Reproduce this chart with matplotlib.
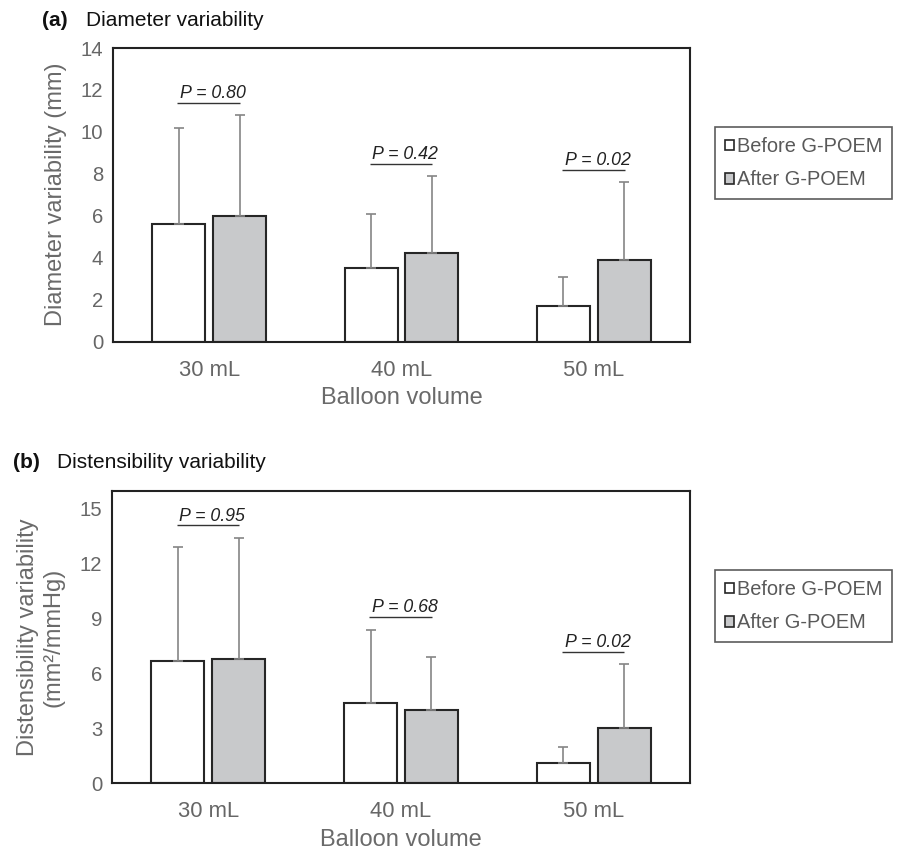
import matplotlib
matplotlib.use("Agg")
import matplotlib.pyplot as plt
import numpy as np
from matplotlib.patches import Patch

plt.rcParams['font.family'] = ['Liberation Sans', 'DejaVu Sans']

categories = ["30 mL", "40 mL", "50 mL"]
series_names = ["Before G-POEM", "After G-POEM"]

# Panel (a) Diameter variability (mm)
diam_before = [5.6, 3.5, 1.7]
diam_before_sd = [4.6, 2.6, 1.4]
diam_after = [6.0, 4.2, 3.9]
diam_after_sd = [4.8, 3.7, 3.7]
diam_p_labels = ["P = 0.80", "P = 0.42", "P = 0.02"]
diam_p_levels = [11.4, 8.45, 8.2]

# Panel (b) Distensibility variability (mm2/mmHg)
dist_before = [6.7, 4.4, 1.1]
dist_before_sd = [6.2, 4.0, 0.9]
dist_after = [6.8, 4.0, 3.0]
dist_after_sd = [6.6, 2.9, 3.5]
dist_p_labels = ["P = 0.95", "P = 0.68", "P = 0.02"]
dist_p_levels = [14.1, 9.1, 7.2]

W, H = 898, 856
fig = plt.figure(figsize=(W / 100, H / 100), dpi=100)

TICK_C = '#666666'
LABEL_C = '#6a6a6a'
EDGE_C = '#262626'
GRAY_FILL = '#c8c9cb'
ERR_C = '#858585'


def panel(rect, before, bsd, after, asd, plabels, plevels, ylim, yticks,
          ylabel, label_x, legend_top):
    ax = fig.add_axes(rect)
    x = np.arange(len(categories))
    off = 0.158
    width = 0.275
    ax.bar(x - off, before, width, color='white', edgecolor=EDGE_C,
           linewidth=1.5, zorder=2)
    ax.bar(x + off, after, width, color=GRAY_FILL, edgecolor=EDGE_C,
           linewidth=1.5, zorder=2)
    z = np.zeros(len(categories))
    ax.errorbar(x - off, before, yerr=[z, bsd], fmt='none', ecolor=ERR_C,
                elinewidth=1.2, capsize=3.5, capthick=1.2, zorder=3)
    ax.errorbar(x + off, after, yerr=[z, asd], fmt='none', ecolor=ERR_C,
                elinewidth=1.2, capsize=3.5, capthick=1.2, zorder=3)
    for xi, lab, lev in zip(x, plabels, plevels):
        ax.plot([xi - 0.165, xi + 0.16], [lev, lev], color='#333333',
                lw=1.0, solid_capstyle='butt', zorder=3)
        ax.annotate(lab, (xi + 0.02, lev), xytext=(0, 3.5),
                    textcoords='offset points', ha='center', va='baseline',
                    fontsize=12.8, style='italic', color='#222222')
    ax.set_xlim(-0.5, 2.5)
    ax.set_ylim(*ylim)
    ax.set_yticks(yticks)
    ax.set_xticks(x)
    ax.set_xticklabels(categories)
    ax.tick_params(axis='both', length=0, labelcolor=TICK_C)
    ax.tick_params(axis='y', pad=7, labelsize=14.6)
    ax.tick_params(axis='x', pad=13, labelsize=15.8)
    for s in ax.spines.values():
        s.set_linewidth(1.5)
        s.set_color('#222222')
    ax.set_xlabel("Balloon volume", fontsize=17, color=LABEL_C, labelpad=5)
    ax.set_ylabel(ylabel, fontsize=17, color=LABEL_C, linespacing=1.2)
    ax.yaxis.set_label_coords(label_x, 0.5)
    handles = [Patch(facecolor='white', edgecolor=EDGE_C, linewidth=1.2),
               Patch(facecolor=GRAY_FILL, edgecolor=EDGE_C, linewidth=1.2)]
    leg = fig.legend(handles, series_names, loc='upper left',
                     bbox_to_anchor=(715 / W, 1 - legend_top / H),
                     bbox_transform=fig.transFigure, fontsize=14.4,
                     frameon=True, fancybox=False, handlelength=0.45,
                     handleheight=0.45, handletextpad=0.15,
                     labelspacing=0.72, borderpad=0.5, borderaxespad=0)
    leg.get_frame().set_edgecolor('#333333')
    leg.get_frame().set_linewidth(1.2)
    for t in leg.get_texts():
        t.set_color('#595959')
    return ax


ax_a = panel([113 / W, 1 - 341.5 / H, 577 / W, 293.5 / H],
             diam_before, diam_before_sd, diam_after, diam_after_sd,
             diam_p_labels, diam_p_levels, (0, 14), np.arange(0, 15, 2),
             "Diameter variability (mm)", -0.08, 127)

ax_b = panel([112 / W, 1 - 783.3 / H, 578 / W, 292.6 / H],
             dist_before, dist_before_sd, dist_after, dist_after_sd,
             dist_p_labels, dist_p_levels, (0, 16), np.arange(0, 16, 3),
             "Distensibility variability\n(mm\u00b2/mmHg)", -0.082, 570)

fig.text(42 / W, 1 - 20 / H, "(a)", fontsize=15, fontweight='bold',
         ha='left', va='center', color='#111111')
fig.text(86 / W, 1 - 20 / H, "Diameter variability", fontsize=15,
         ha='left', va='center', color='#111111')
fig.text(13 / W, 1 - 462 / H, "(b)", fontsize=15, fontweight='bold',
         ha='left', va='center', color='#111111')
fig.text(57 / W, 1 - 462 / H, "Distensibility variability", fontsize=15,
         ha='left', va='center', color='#111111')

fig.savefig("out.png", dpi=100)
